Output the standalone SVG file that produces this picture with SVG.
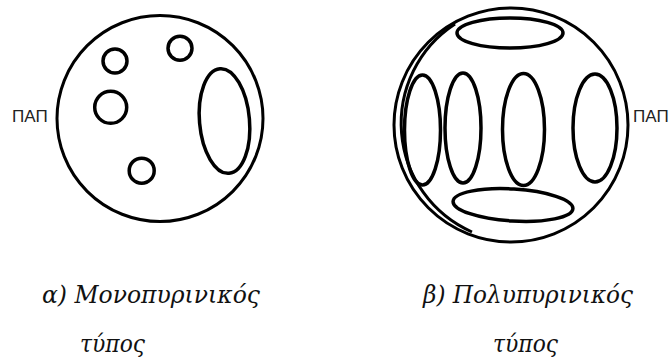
<svg xmlns="http://www.w3.org/2000/svg" width="669" height="360" viewBox="0 0 669 360">
<style>
.cell{fill:none;stroke:#000;stroke-width:3}
.org{fill:none;stroke:#000;stroke-width:3.5}
.lbl{font-family:"Liberation Sans",Arial,sans-serif;font-size:17px;fill:#222}
.cap{font-family:"DejaVu Serif","Liberation Serif",serif;font-style:italic;font-size:25px;fill:#111}
</style>
<rect width="669" height="360" fill="#fff"/>
<g id="cell-mono">
<circle class="cell" cx="160" cy="118.5" r="103"/>
<circle class="org" cx="115" cy="61" r="12"/>
<circle class="org" cx="180" cy="48.3" r="12"/>
<circle class="org" cx="110.7" cy="107.3" r="16"/>
<circle class="org" cx="141.7" cy="170.7" r="12.5"/>
<ellipse class="org" cx="224.5" cy="121" rx="25" ry="52.5" transform="rotate(-5 224.5 121)"/>
</g>
<g id="label-pap-left"><text class="lbl" x="12" y="122">ΠΑΠ</text></g>
<g id="cell-poly">
<circle class="cell" cx="511" cy="125" r="117"/>
<path class="cell" d="M455 24 A118.7 118.7 0 0 0 472 232"/>
<ellipse class="org" cx="510" cy="33" rx="53" ry="15"/>
<ellipse class="org" cx="513" cy="205" rx="60" ry="16" transform="rotate(3.5 513 205)"/>
<ellipse class="org" cx="422.5" cy="130" rx="18" ry="55"/>
<ellipse class="org" cx="463" cy="128" rx="18" ry="55"/>
<ellipse class="org" cx="523.5" cy="129.5" rx="21" ry="56"/>
<ellipse class="org" cx="595" cy="128" rx="22" ry="54"/>
</g>
<g id="label-pap-right"><text class="lbl" x="633" y="122">ΠΑΠ</text></g>
<g id="caption-a">
<text class="cap" x="42" y="303" textLength="218" lengthAdjust="spacingAndGlyphs">α) Μονοπυρινικός</text>
<text class="cap" x="80" y="352" textLength="65" lengthAdjust="spacingAndGlyphs">τύπος</text>
</g>
<g id="caption-b">
<text class="cap" x="423" y="303" textLength="210" lengthAdjust="spacingAndGlyphs">β) Πολυπυρινικός</text>
<text class="cap" x="493" y="352" textLength="65" lengthAdjust="spacingAndGlyphs">τύπος</text>
</g>
</svg>
